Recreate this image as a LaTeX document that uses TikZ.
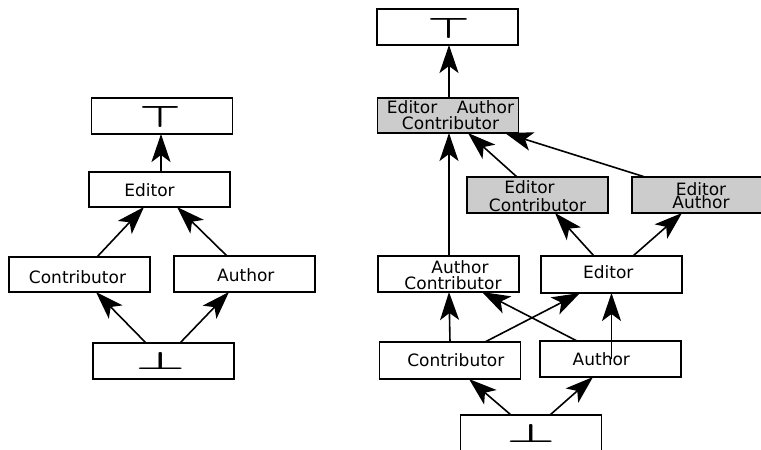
\documentclass[tikz,border=0pt]{standalone}
\usepackage{fontspec}
\setmainfont{DejaVu Sans}
\usetikzlibrary{arrows.meta}
\begin{document}
\begin{tikzpicture}[x=1pt,y=-1pt,
  box/.style={draw=black, line width=1.4pt, fill=white, minimum width=141pt, minimum height=36pt, inner sep=0pt, outer sep=0pt},
  grbox/.style={box, fill=gray!40},
  lbl/.style={anchor=base, inner sep=0pt, font=\fontsize{17pt}{17pt}\selectfont},
  sym/.style={inner sep=0pt},
  arr/.style={line width=1.6pt, -{Stealth[length=28pt,width=19pt,inset=7pt]}}]
\useasboundingbox (0,0) rectangle (761,450);
\clip (0,0) rectangle (761,450);
% ---------- left lattice ----------
\node[box] (ltop) at (162,116) {};
\node[box, minimum height=35pt] (led) at (159.5,189.5) {};
\node[box, minimum height=35pt] (lcon) at (79.5,274.5) {};
\node[box] (lauth) at (244.5,274) {};
\node[box] (lbot) at (163.5,361) {};
\node[sym] (ltopsym) at (161,117) {\resizebox{42pt}{21pt}{\boldmath$\top$}};
\node[lbl] (ledt) at (149.5,196) {Editor};
\node[lbl] (lcont) at (77.5,283) {Contributor};
\node[lbl] (lautht) at (245.8,281) {Author};
\node[sym] (lbotsym) at (160.5,361) {\resizebox{50pt}{17pt}{\boldmath$\bot$}};
\draw[arr] ([xshift=1.5pt]led.north) -- ([xshift=-1pt]ltop.south);
\draw[arr] ([xshift=17.5pt]lcon.north) -- ([xshift=-15.5pt]led.south);
\draw[arr] ([xshift=-17.5pt]lauth.north) -- ([xshift=17.5pt]led.south);
\draw[arr] ([xshift=-17.5pt]lbot.north) -- ([xshift=16.5pt]lcon.south);
\draw[arr] ([xshift=16.5pt]lbot.north) -- ([xshift=-15.5pt]lauth.south);
% ---------- right lattice ----------
\node[box] (rtop) at (447.5,27) {};
\node[grbox, minimum height=35pt] (eac) at (448,115.5) {};
\node[grbox] (ec) at (537.5,195) {};
\node[grbox] (ea) at (702.5,195) {};
\node[box] (ac) at (448.5,274) {};
\node[box, minimum height=37pt] (red) at (611.5,274.5) {};
\node[box, minimum height=37pt] (rcon) at (450,360.5) {};
\node[box] (rauth) at (610.5,359) {};
\node[box] (rbot) at (531,433) {};
\node[sym] (rtopsym) at (449.5,28) {\resizebox{43pt}{20pt}{\boldmath$\top$}};
\node[lbl] (eac1) at (450.5,113) {Editor\hspace{19.5pt}Author};
\node[lbl] (eac2) at (450.5,129) {Contributor};
\node[lbl] (ec1) at (529.5,193) {Editor};
\node[lbl] (ec2) at (537.5,211.5) {Contributor};
\node[lbl] (ea1) at (701,195) {Editor};
\node[lbl] (ea2) at (701,208.5) {Author};
\node[lbl] (ac1) at (460,273) {Author};
\node[lbl] (ac2) at (453,289) {Contributor};
\node[lbl] (redt) at (608.3,278) {Editor};
\node[lbl] (rcont) at (455.8,366) {Contributor};
\node[lbl] (rautht) at (601.3,365) {Author};
\node[sym] (rbotsym) at (531,433.5) {\resizebox{49pt}{18pt}{\boldmath$\bot$}};
\draw[arr] ([xshift=1pt]eac.north) -- ([xshift=1.5pt]rtop.south);
\draw[arr] ([xshift=0.5pt]ac.north) -- ([xshift=1pt]eac.south);
\draw[arr] ([xshift=-20.5pt]ec.north) -- ([xshift=20pt]eac.south);
\draw[arr] ([xshift=-57.5pt]ea.north) -- ([xshift=57pt]eac.south);
\draw[arr] ([xshift=-17.5pt]red.north) -- ([xshift=17.5pt]ec.south);
\draw[arr] ([xshift=21.5pt]red.north) -- ([xshift=-20.5pt]ea.south);
\draw[arr] (rcon.north) -- ([xshift=0.5pt]ac.south);
\draw[arr] ([xshift=35pt]rcon.north) -- ([xshift=-31.5pt]red.south);
\draw[arr] ([xshift=-33.5pt]rauth.north) -- ([xshift=33.5pt]ac.south);
\draw[arr] ([xshift=1pt]rauth.center) -- (red.south);
\draw[arr] ([xshift=-20pt]rbot.north) -- ([xshift=19pt]rcon.south);
\draw[arr] ([xshift=19pt]rbot.north) -- ([xshift=-17.5pt]rauth.south);
\end{tikzpicture}
\end{document}
